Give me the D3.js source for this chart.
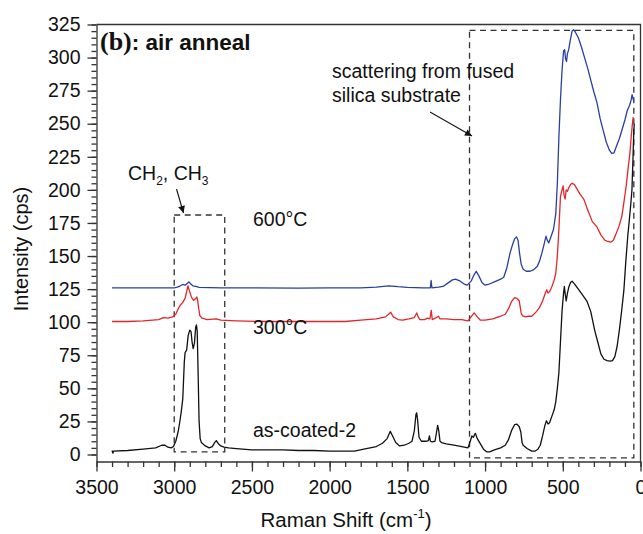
<!DOCTYPE html>
<html>
<head>
<meta charset="utf-8">
<script src="https://cdn.jsdelivr.net/npm/d3@7"></script>
<style>
  body { margin: 0; background: #fff; }
  svg { font-family: "Liberation Sans", Arial, sans-serif; }
</style>
</head>
<body>
<svg id="chart" width="643" height="534"></svg>
<script>
// Raman spectra, [shift cm-1, intensity cps]
const asCoated = [
  [3400, 3], [3395, 1], [3390, 2.5], [3300, 3], [3200, 4], [3120, 5], [3080, 7], [3060, 7], [3040, 5.5],
  [3020, 5], [3005, 6], [2990, 10], [2975, 17], [2965, 24], [2955, 32], [2945, 42], [2935, 70], [2930, 77],
  [2920, 79], [2910, 90], [2900, 94], [2892, 93], [2885, 85], [2878, 80], [2870, 84], [2862, 96], [2857, 98],
  [2852, 93], [2846, 60], [2840, 25], [2833, 12], [2825, 9], [2800, 6.5], [2775, 5], [2755, 6], [2740, 9],
  [2729, 10.5], [2715, 8], [2700, 6.5], [2680, 5.5], [2650, 5], [2600, 4.5], [2500, 3.5], [2400, 3.5],
  [2300, 3.5], [2200, 3], [2100, 3], [2000, 2.5], [1900, 2.5], [1840, 2.5], [1780, 4], [1740, 5], [1700, 6],
  [1660, 8.5], [1630, 12], [1610, 17.5], [1595, 14], [1575, 9], [1550, 6.5], [1520, 7], [1490, 8.5], [1470, 10],
  [1455, 18], [1445, 30], [1440, 31.5], [1434, 26], [1425, 13], [1410, 10], [1380, 10], [1365, 10.5], [1358, 14],
  [1352, 10], [1340, 9.5], [1322, 10], [1312, 17], [1305, 22], [1298, 18], [1290, 10], [1280, 9], [1250, 8],
  [1200, 7], [1150, 6], [1110, 5], [1095, 10], [1085, 14], [1075, 13], [1063, 16], [1050, 12], [1030, 8],
  [1010, 4], [990, 2], [970, 2], [940, 3.5], [900, 5], [870, 7], [850, 11], [830, 18], [810, 22.5], [795, 23],
  [780, 21], [770, 17], [762, 9], [755, 7], [745, 6], [730, 4.5], [700, 2.5], [680, 2.5], [660, 4], [645, 7],
  [630, 14], [615, 22], [605, 25.5], [595, 23], [585, 24], [570, 29], [555, 34], [545, 40], [535, 50], [525, 62],
  [515, 85], [505, 108], [495, 122], [490, 127], [484, 121], [478, 116], [470, 122], [460, 127], [450, 130],
  [440, 131], [425, 129], [400, 125], [370, 120], [345, 116], [320, 108], [295, 94], [275, 85], [255, 76],
  [235, 72], [215, 71], [195, 70.5], [180, 71], [165, 74], [150, 82], [135, 95], [120, 110], [107, 124],
  [95, 145], [82, 165], [72, 177], [62, 190], [55, 200], [48, 225], [43, 245], [40, 250]
];

const anneal300 = [
  [3400, 100.5], [3300, 100.5], [3200, 101], [3100, 102], [3070, 103.5], [3040, 103], [3010, 104], [2990, 106],
  [2975, 110], [2960, 113], [2945, 115], [2930, 118], [2920, 123], [2912, 127.5], [2905, 125], [2895, 121],
  [2885, 118], [2875, 116.5], [2865, 117.5], [2855, 119], [2850, 117], [2842, 110], [2835, 105], [2820, 103],
  [2790, 102], [2730, 102.5], [2700, 101.5], [2600, 101], [2400, 100.5], [2200, 100.5], [2000, 100.5],
  [1900, 100.5], [1800, 101.5], [1700, 102.5], [1640, 104], [1607, 107.5], [1590, 104], [1560, 102],
  [1530, 101.5], [1490, 102.5], [1455, 103.5], [1440, 107], [1430, 104], [1420, 102], [1390, 102], [1370, 103],
  [1355, 102.5], [1346, 109], [1340, 102], [1320, 103], [1300, 104.5], [1290, 102.5], [1250, 102.5], [1200, 102],
  [1150, 102], [1110, 101], [1090, 104], [1070, 107], [1050, 104], [1030, 101.5], [1000, 101.5], [950, 102.5],
  [900, 104.5], [870, 106], [850, 110], [830, 115.5], [810, 118.5], [795, 118], [780, 116], [768, 107],
  [760, 105], [740, 104], [720, 104.5], [700, 104.5], [670, 108], [650, 111], [630, 116], [612, 122],
  [603, 124.5], [595, 122], [585, 123], [570, 127], [555, 132], [545, 137], [535, 150], [525, 170], [515, 195],
  [505, 200], [498, 203], [492, 196], [485, 193], [478, 200], [470, 199], [460, 202], [450, 204], [440, 205],
  [425, 204], [410, 201], [390, 197], [365, 193], [340, 185], [310, 176], [280, 172], [255, 166], [230, 162],
  [210, 161], [190, 160.5], [175, 162], [160, 166], [140, 172], [120, 180], [105, 192], [92, 203], [79, 217],
  [68, 228], [60, 240], [52, 250], [47, 255]
];

const anneal600 = [
  [3400, 126], [3300, 126], [3100, 126], [3000, 126], [2980, 126.5], [2960, 127.5], [2945, 128.5], [2930, 128],
  [2915, 129.5], [2905, 130.5], [2895, 129], [2880, 127.5], [2860, 127], [2840, 126.3], [2700, 126], [2500, 126],
  [2200, 125.8], [2000, 126], [1800, 126], [1700, 126.5], [1620, 127.5], [1560, 126.8], [1500, 126.3],
  [1400, 126], [1352, 126], [1347, 131.5], [1342, 126], [1300, 126.5], [1270, 127], [1240, 129.5], [1210, 132],
  [1190, 132.5], [1160, 131], [1130, 128.5], [1115, 128], [1090, 131], [1070, 136], [1057, 138.5], [1040, 135],
  [1020, 130], [1000, 128], [980, 128.5], [940, 130.5], [900, 132.5], [880, 134], [860, 141], [840, 152],
  [825, 158], [810, 163], [798, 164.5], [788, 162], [778, 152], [768, 144], [755, 140], [735, 138.5],
  [710, 138.5], [690, 139.5], [665, 142], [650, 146], [635, 152], [620, 159], [608, 165], [600, 162],
  [590, 160], [575, 165], [560, 170], [545, 182], [535, 205], [525, 240], [515, 268], [505, 290], [495, 305],
  [488, 306], [482, 299], [476, 297], [470, 303], [462, 306], [452, 313], [440, 320], [430, 321], [418, 319],
  [400, 315], [380, 308], [360, 300], [340, 292], [320, 283], [300, 274], [280, 266], [260, 254], [240, 245],
  [220, 236], [200, 230], [185, 227.5], [170, 228], [155, 233], [135, 239], [115, 247], [100, 253], [85, 260],
  [70, 264], [60, 268], [54, 272], [48, 269], [43, 267]
];

const xTicks = [3500, 3000, 2500, 2000, 1500, 1000, 500, 0];
const yTicks = [0, 25, 50, 75, 100, 125, 150, 175, 200, 225, 250, 275, 300, 325];

// dashed boxes: [x0, x1, y0, y1] in data units
const boxCH = [3000, 2675, 2, 181];
const boxSilica = [1100, 43, -2.5, 320.5];

const svg = d3.select("#chart");

const x = d3.scaleLinear().domain([3500, 0]).range([96.5, 640.5]);
const y = d3.scaleLinear().domain([-5.3, 325]).range([461.5, 24.5]);

// frame (top + right)
svg.append("path")
  .attr("d", `M${x(3500)},${y(325)}H${x(0)}V${y(-5.3)}`)
  .attr("fill", "none")
  .attr("stroke", "#333")
  .attr("stroke-width", 1.3);

// y axis: minor then major
svg.append("g")
  .attr("transform", `translate(${x(3500)},0)`)
  .call(d3.axisLeft(y).tickValues(d3.range(0, 326, 5)).tickSize(5).tickFormat(""))
  .call(g => g.select(".domain").remove());

const yAxis = svg.append("g")
  .attr("transform", `translate(${x(3500)},0)`)
  .call(d3.axisLeft(y).tickValues(yTicks).tickSize(9).tickSizeOuter(0).tickPadding(7));

// x axis
svg.append("g")
  .attr("transform", `translate(0,${y(-5.3)})`)
  .call(d3.axisBottom(x).tickValues(d3.range(0, 3501, 100)).tickSize(5.5).tickFormat(""))
  .call(g => g.select(".domain").remove());

const xAxis = svg.append("g")
  .attr("transform", `translate(0,${y(-5.3)})`)
  .call(d3.axisBottom(x).tickValues(xTicks).tickSize(10).tickSizeOuter(0).tickPadding(9).tickFormat(d3.format("d")));

svg.selectAll(".tick line, .domain").attr("stroke", "#333").attr("stroke-width", 1.3);
yAxis.selectAll("text").style("font-size", "19.5px").style("font-family", "'Liberation Sans', Arial").attr("fill", "#111");
xAxis.selectAll("text").style("font-size", "19.5px").style("font-family", "'Liberation Sans', Arial").attr("fill", "#111");

// dashed boxes
[boxCH, boxSilica].forEach(b => {
  svg.append("rect")
    .attr("x", x(b[0]))
    .attr("y", y(b[3]))
    .attr("width", x(b[1]) - x(b[0]))
    .attr("height", y(b[2]) - y(b[3]))
    .attr("fill", "none")
    .attr("stroke", "#333")
    .attr("stroke-width", 1.3)
    .attr("stroke-dasharray", "6,4.5");
});

// spectra
const line = d3.line().x(d => x(d[0])).y(d => y(d[1]));
const series = [
  { data: anneal600, color: "#2b3f9f" },
  { data: anneal300, color: "#e3262b" },
  { data: asCoated, color: "#111" }
];
svg.selectAll(".spec")
  .data(series)
  .enter()
  .append("path")
  .attr("class", "spec")
  .attr("d", d => line(d.data))
  .attr("fill", "none")
  .attr("stroke", d => d.color)
  .attr("stroke-width", 1.3)
  .attr("stroke-linejoin", "round");

// arrow marker
svg.append("defs").append("marker")
  .attr("id", "arr")
  .attr("viewBox", "0 0 10 10")
  .attr("refX", 10).attr("refY", 5)
  .attr("markerWidth", 9).attr("markerHeight", 7)
  .attr("markerUnits", "userSpaceOnUse")
  .attr("orient", "auto")
  .append("path")
  .attr("d", "M0,0L10,5L0,10z")
  .attr("fill", "#111");

svg.append("line")
  .attr("x1", 430).attr("y1", 112).attr("x2", 472).attr("y2", 136)
  .attr("stroke", "#111").attr("stroke-width", 1.1)
  .attr("marker-end", "url(#arr)");

svg.append("line")
  .attr("x1", 176.5).attr("y1", 189).attr("x2", 183.5).attr("y2", 213)
  .attr("stroke", "#111").attr("stroke-width", 1.1)
  .attr("marker-end", "url(#arr)");

// texts
const title = svg.append("text")
  .attr("x", 100).attr("y", 50)
  .attr("fill", "#111");
title.append("tspan")
  .style("font-family", "'Liberation Serif', 'Times New Roman', serif")
  .style("font-weight", "bold")
  .style("font-size", "26px")
  .text("(b)");
title.append("tspan")
  .style("font-weight", "bold")
  .style("font-size", "22.5px")
  .text(": air anneal");

svg.append("text")
  .attr("x", 332).attr("y", 78)
  .style("font-size", "19.5px").attr("fill", "#111")
  .text("scattering from fused");
svg.append("text")
  .attr("x", 332).attr("y", 101.5)
  .style("font-size", "19.5px").attr("fill", "#111")
  .text("silica substrate");

const ch = svg.append("text")
  .attr("x", 128).attr("y", 180)
  .style("font-size", "19.5px").attr("fill", "#111");
ch.append("tspan").text("CH");
ch.append("tspan").attr("dy", 5).style("font-size", "12px").text("2");
ch.append("tspan").attr("dy", -5).text(", CH");
ch.append("tspan").attr("dy", 5).style("font-size", "12px").text("3");

[["600°C", 226], ["300°C", 333.5], ["as-coated-2", 437]].forEach(([t, yy]) => {
  svg.append("text")
    .attr("x", 253).attr("y", yy)
    .style("font-size", "19.5px").attr("fill", "#111")
    .text(t);
});

// axis titles
svg.append("text")
  .attr("transform", "translate(28,249) rotate(-90)")
  .attr("text-anchor", "middle")
  .style("font-size", "20px").attr("fill", "#111")
  .text("Intensity (cps)");

const xt = svg.append("text")
  .attr("x", 346).attr("y", 527)
  .attr("text-anchor", "middle")
  .style("font-size", "20.5px").attr("fill", "#111");
xt.append("tspan").text("Raman Shift (cm");
xt.append("tspan").attr("dy", -9).style("font-size", "13px").text("-1");
xt.append("tspan").attr("dy", 9).text(")");
</script>
</body>
</html>
